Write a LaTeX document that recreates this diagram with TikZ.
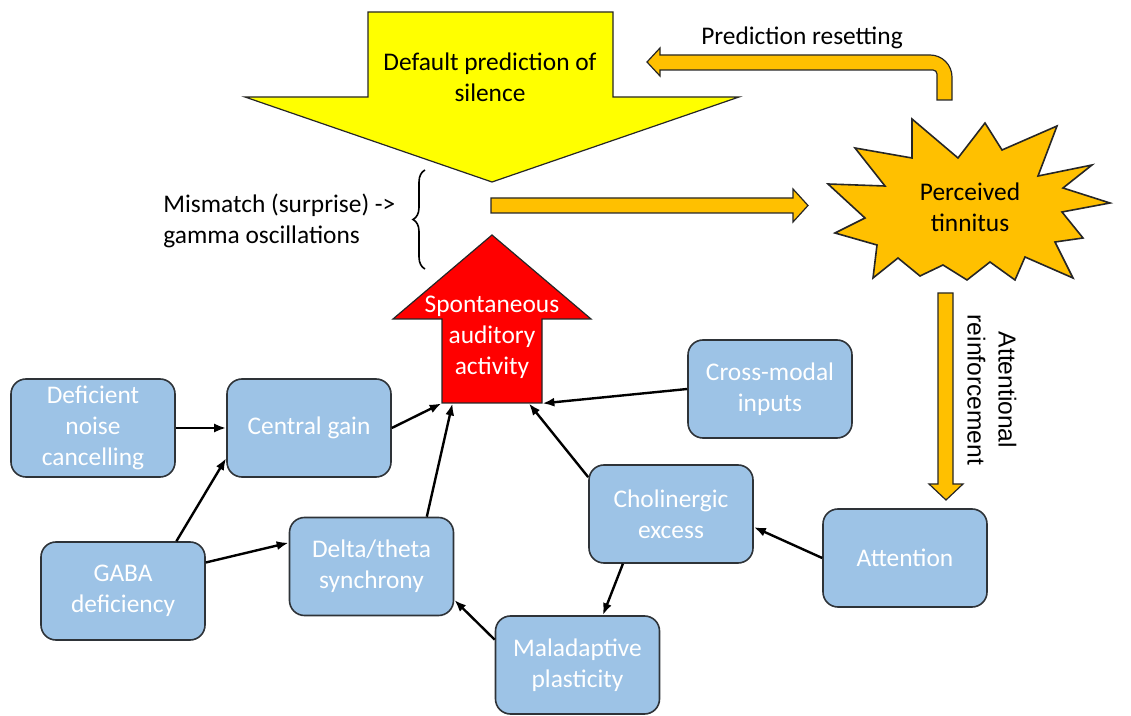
\documentclass[tikz,border=0pt]{standalone}
\usepackage{fontspec}
\setmainfont{Carlito}
\newfontfamily\arialfont{Liberation Sans}
\usetikzlibrary{arrows.meta,decorations.pathreplacing}
\definecolor{boxblue}{HTML}{9DC3E6}
\definecolor{boxline}{HTML}{2E3338}
\definecolor{amber}{HTML}{FFC000}
\definecolor{lemon}{HTML}{FFFF00}
\tikzset{
	cause/.style={draw=boxline,line width=0.8pt,fill=boxblue,rounded corners=7.5pt,
		minimum width=82pt,minimum height=49pt,inner sep=1pt,align=center,text=white},
	link/.style={line width=1.2pt,-{Latex[length=6pt,width=4.5pt]}},
	block/.style={draw=black!85,line width=0.6pt},
	txt/.style={align=center,inner sep=0pt}
}
\begin{document}
\begin{tikzpicture}[x=0.5pt,y=-0.5pt,font=\fontsize{12.7}{15.5}\selectfont]
				\useasboundingbox (0,0) rectangle (1131,716);
				\draw[block,fill=lemon] (368,12) -- (613,12) -- (613,97) -- (739,97) -- (492,182) -- (245,97) -- (368,97) -- cycle;
				\node[txt] (silence) at (490,77) {Default prediction of\\silence};
				\draw[block,fill=amber] (647,62) -- (660,48) -- (660,55) [rounded corners=11pt] -- (952,55) [sharp corners] -- (952,100) -- (937,100) [rounded corners=2pt] -- (937,70) [sharp corners] -- (660,70) -- (660,76) -- cycle;
				\node[txt] (reset) at (802,38) {Prediction resetting};
				\draw[block,line width=0.8pt,fill=amber] (828,184) -- (885,186) -- (855,148) -- (912,158) -- (912,119) -- (958,158) -- (985,123) -- (1002,150) -- (1057,126) -- (1038,176) -- (1092,165) -- (1063,188) -- (1110,203) -- (1062,212) -- (1083,238) -- (1055,242) -- (1073,278) -- (1025,257) -- (1015,280) -- (990,262) -- (967,280) -- (943,265) -- (920,276) -- (898,258) -- (873,278) -- (877,245) -- (835,233) -- (865,218) -- cycle;
				\node[txt] (tinnitus) at (970,207) {Perceived\\tinnitus};
				\draw[block,fill=amber] (491,198) -- (793,198) -- (793,189) -- (808,205.5) -- (793,222) -- (793,213) -- (491,213) -- cycle;
				\draw[line width=0.8pt,decorate,decoration={brace,amplitude=6pt}] (425,269) -- (425,170);
				\node[anchor=west,align=left,inner sep=0pt] (mismatch) at (163,221) {Mismatch (surprise) -{}>\\gamma oscillations};
				\draw[block,fill=red] (442,403) -- (442,319) -- (393,319) -- (492,235) -- (591,319) -- (542,319) -- (542,403) -- cycle;
				\node[minimum width=50pt,minimum height=42pt,inner sep=0pt] (spont) at (492,361) {};
				\node[txt,text=white] (spontxt) at (492,337) {Spontaneous\\auditory\\activity};
				\draw[block,fill=amber] (938,293) -- (953,293) -- (953,484) -- (963,484) -- (946,500) -- (929,484) -- (938,484) -- cycle;
				\node[txt,rotate=-90,font=\arialfont\fontsize{12.3}{15.5}\selectfont] (reinf) at (992,390) {Attentional\\reinforcement};
				\node[cause] (noise) at (93,428) {Deficient\\noise\\cancelling};
				\node[cause] (gain) at (309,428) {Central gain};
				\node[cause] (gaba) at (123,591) {GABA\\deficiency};
				\node[cause] (delta) at (371.5,566.5) {Delta/theta\\synchrony};
				\node[cause] (cross) at (770,389) {Cross-modal\\inputs};
				\node[cause] (cholin) at (671,514) {Cholinergic\\excess};
				\node[cause] (attn) at (905,558) {Attention};
				\node[cause] (malad) at (577.5,665) {Maladaptive\\plasticity};
				\draw[link] (noise) -- (gain);
				\draw[link] (gaba.43) -- (gain.200);
				\draw[link] (gaba.19) -- (delta.164);
				\draw[link] (gain.east) -- (spont.south west);
				\draw[link] (delta.42) -- (spont.227);
				\draw[link] (cross.west) -- (spont.south east);
				\draw[link] (cholin.156) -- (spont.311);
				\draw[link] (cholin.226) -- (malad.63);
				\draw[link] (attn.west) -- (cholin.-9);
				\draw[link] (malad.163) -- (delta.-22);
			\end{tikzpicture}
\end{document}
